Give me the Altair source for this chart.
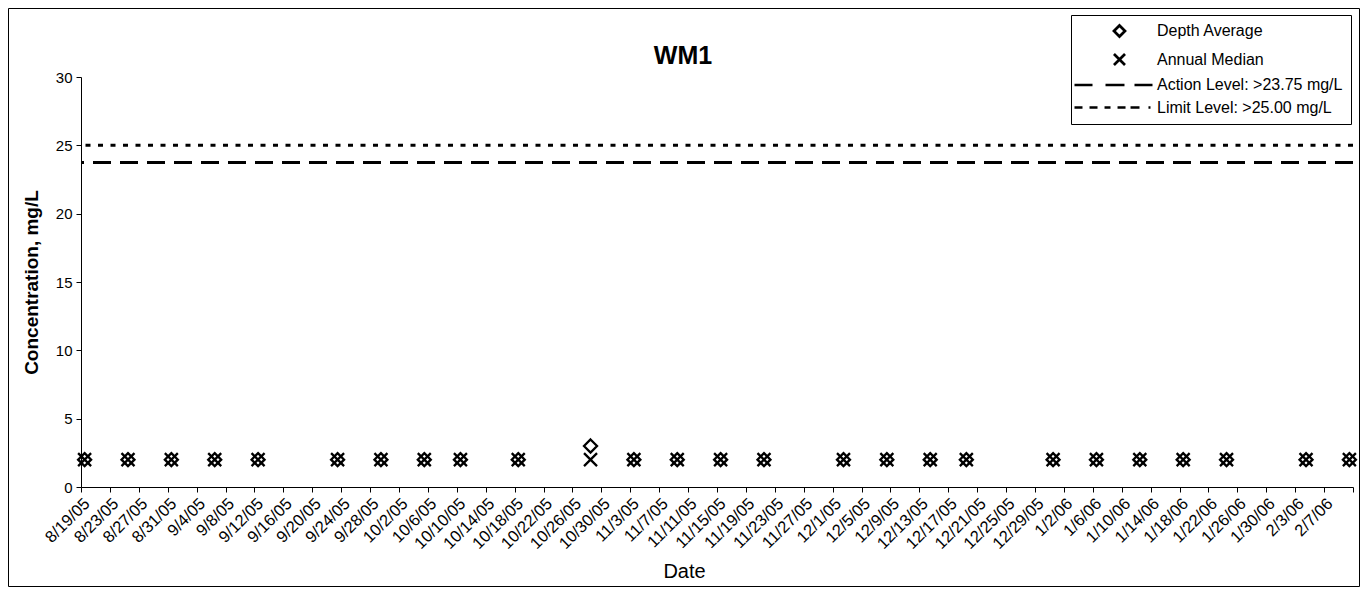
import altair as alt
import pandas as pd

# ---------------- data ----------------
sample_dates = ["8/19/05", "8/25/05", "8/31/05", "9/6/05", "9/12/05", "9/23/05", "9/29/05",
                "10/5/05", "10/10/05", "10/18/05", "10/28/05", "11/3/05", "11/9/05", "11/15/05",
                "11/21/05", "12/2/05", "12/8/05", "12/14/05", "12/19/05", "12/31/05", "1/6/06",
                "1/12/06", "1/18/06", "1/24/06", "2/4/06", "2/10/06"]
depth_average = [2, 2, 2, 2, 2, 2, 2, 2, 2, 2, 3, 2, 2, 2, 2, 2, 2, 2, 2, 2, 2, 2, 2, 2, 2, 2]
annual_median = [2, 2, 2, 2, 2, 2, 2, 2, 2, 2, 2, 2, 2, 2, 2, 2, 2, 2, 2, 2, 2, 2, 2, 2, 2, 2]

action_level = 23.75
limit_level = 25.00

tick_labels = ["8/19/05", "8/23/05", "8/27/05", "8/31/05", "9/4/05", "9/8/05", "9/12/05",
               "9/16/05", "9/20/05", "9/24/05", "9/28/05", "10/2/05", "10/6/05", "10/10/05",
               "10/14/05", "10/18/05", "10/22/05", "10/26/05", "10/30/05", "11/3/05", "11/7/05",
               "11/11/05", "11/15/05", "11/19/05", "11/23/05", "11/27/05", "12/1/05", "12/5/05",
               "12/9/05", "12/13/05", "12/17/05", "12/21/05", "12/25/05", "12/29/05", "1/2/06",
               "1/6/06", "1/10/06", "1/14/06", "1/18/06", "1/22/06", "1/26/06", "1/30/06",
               "2/3/06", "2/7/06"]
axis_end = "2/11/06"

y_ticks = [0, 5, 10, 15, 20, 25, 30]

series_names = ["Depth Average", "Annual Median",
                "Action Level: >23.75 mg/L", "Limit Level: >25.00 mg/L"]

# ---------------- helpers ----------------
def ms(d, hours=0):
    ts = pd.to_datetime(d, format="%m/%d/%y") + pd.Timedelta(hours=hours)
    return int(ts.value // 10**6)

x_start = ms(tick_labels[0])
x_end = ms(axis_end)
tick_values = [ms(d) for d in tick_labels] + [x_end]

points = pd.DataFrame({
    "t": [ms(d, 12) for d in sample_dates] * 2,
    "value": depth_average + annual_median,
    "series": ["Depth Average"] * len(sample_dates) + ["Annual Median"] * len(sample_dates),
})
levels = pd.DataFrame({"level": [action_level, limit_level],
                       "name": ["Action", "Limit"]})
legend_df = pd.DataFrame({"t": [None] * 4, "value": [None] * 4, "series": series_names})

FONT = "Liberation Sans"

diamond_c = "M0,-1L1,0L0,1L-1,0Z"
xmark_c = "M-1,-1L1,1M-1,1L1,-1"
diamond_l = "M5.07,0L5.92,-0.85L6.77,0L5.92,0.85Z"
xmark_l = "M5.07,-0.85L6.77,0.85M5.07,0.85L6.77,-0.85"
dash_l = "M-1,0L1.77,0M3.77,0L6.69,0M8.23,0L11,0"
dot_l = ("M-1,0L0.23,0M1.31,0L2.54,0M3.62,0L4.54,0M5.62,0L6.85,0"
         "M7.62,0L9.0,0M10.38,0L10.69,0")

x_scale = alt.Scale(type="utc", domain=[x_start, x_end], nice=False)
y_scale = alt.Scale(domain=[0, 30], nice=False)

x_axis = alt.Axis(
    values=tick_values, tickCount=200,
    labelExpr=f"datum.value >= {x_end} ? '' : utcFormat(datum.value, '%-m/%-d/%y')",
    labelAngle=-45, labelFont=FONT, labelFontSize=16.5, labelColor="black",
    labelPadding=3, labelOverlap=False, labelFlush=False, labelBound=False,
    tickSize=5, tickColor="black", domainColor="black", grid=False,
    title="Date", titleFont=FONT, titleFontSize=20, titleFontWeight="normal",
    titleColor="black", titleX=603, titleY=90, titleBaseline="alphabetic",
)
y_axis = alt.Axis(
    values=y_ticks, labelFont=FONT, labelFontSize=15, labelColor="black", labelPadding=4,
    tickSize=5, tickColor="black", domainColor="black", grid=False,
    title="Concentration, mg/L", titleFont=FONT, titleFontSize=19,
    titleFontWeight="bold", titleColor="black", titleX=-44, titleY=205,
    titleBaseline="alphabetic", titleAngle=270,
)

pts = alt.Chart(points).mark_point(filled=False, color="black", strokeWidth=2.3, size=169,
                                   opacity=1).encode(
    x=alt.X("t:T", scale=x_scale, axis=x_axis),
    y=alt.Y("value:Q", scale=y_scale, axis=y_axis),
    shape=alt.Shape("series:N", scale=alt.Scale(domain=["Depth Average", "Annual Median"],
                                                range=[diamond_c, xmark_c]), legend=None),
)

action = alt.Chart(levels[levels["name"] == "Action"]).mark_rule(
    color="black", strokeWidth=3, strokeDash=[18, 9]).encode(
    y=alt.Y("level:Q", scale=y_scale, axis=y_axis))
limit = alt.Chart(levels[levels["name"] == "Limit"]).mark_rule(
    color="black", strokeWidth=3, strokeDash=[5, 7.5]).encode(
    y=alt.Y("level:Q", scale=y_scale, axis=y_axis))

legend_layer = alt.Chart(legend_df).mark_point(filled=False, color="black", strokeWidth=2.5,
                                               opacity=1).encode(
    x=alt.X("t:T", scale=x_scale, axis=x_axis),
    y=alt.Y("value:Q", scale=y_scale, axis=y_axis),
    shape=alt.Shape("series:N",
                    scale=alt.Scale(domain=series_names,
                                    range=[diamond_l, xmark_l, dash_l, dot_l]),
                    legend=alt.Legend(title=None, orient="none", legendX=990, legendY=-62,
                                      strokeColor="black", fillColor="white", padding=8,
                                      symbolSize=169, symbolStrokeWidth=2.7, symbolOpacity=1,
                                      symbolStrokeColor="black", symbolFillColor="transparent",
                                      symbolOffset=-6, labelOffset=68,
                                      labelFont=FONT, labelFontSize=16, labelColor="black",
                                      labelLimit=400, rowPadding=6.5)),
)

frame = alt.Chart(pd.DataFrame({"a": [0]})).mark_rect(
    fill="transparent", stroke="black", strokeWidth=1).encode(
    x=alt.value(-72.5), x2=alt.value(1278.5), y=alt.value(-68.5), y2=alt.value(509.5))

chart = alt.layer(frame, limit, action, pts, legend_layer).resolve_scale(
    shape="independent"
).properties(
    width=1272, height=410,
    background="white",
    title=alt.TitleParams("WM1", font=FONT, fontSize=25, fontWeight="bold", color="black",
                          anchor="middle", frame="group", dx=-34, offset=-81,
                          baseline="alphabetic"),
    autosize=alt.AutoSizeParams(type="none"),
    padding={"left": 73, "top": 69, "right": 8, "bottom": 100},
).configure_view(strokeWidth=0, stroke="transparent")

chart.save("out.html", embed_options={"renderer": "svg", "actions": False})
